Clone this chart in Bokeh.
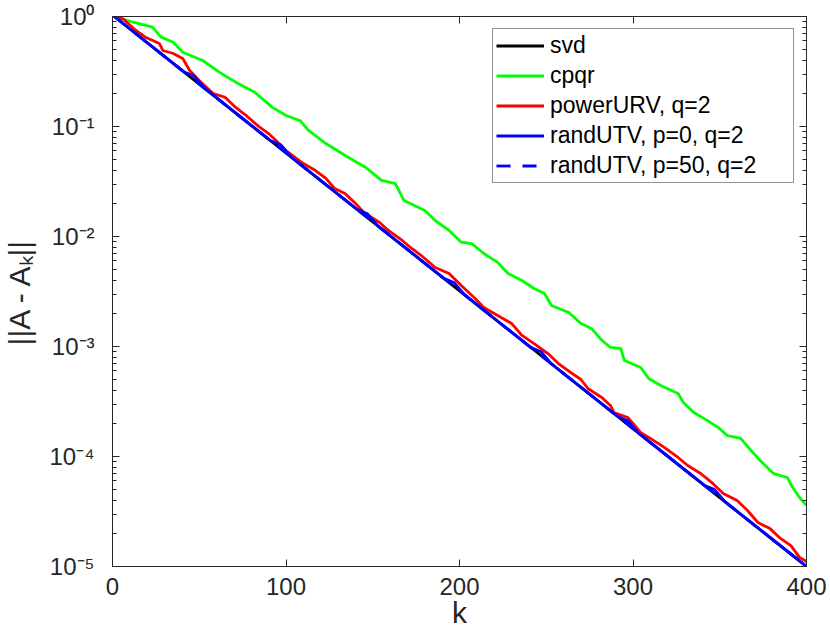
from bokeh.plotting import figure
from bokeh.models import (Range1d, FixedTicker, LinearAxis, LogAxis,
                          Legend, LegendItem, CustomJSTickFormatter)
from bokeh.embed import file_html
from bokeh.resources import INLINE

# ---------------- data ----------------
svd_k = [1, 50, 100, 150, 200, 250, 300, 350, 400]
svd_vals = [1.0, 0.243, 0.0574, 0.0136, 0.00321, 0.000758, 0.000179, 4.23e-5, 1.0e-5]

cpqr_k = [1, 12, 23, 28, 35, 40.5, 52, 61.5, 71, 82,
          92, 100, 108, 113, 123, 136, 146, 155, 163, 166,
          168, 180, 186, 194, 201, 207, 214, 222, 228, 236,
          243, 249, 253, 263, 270, 276, 282, 287, 293, 295,
          304.5, 309, 316, 326, 329, 335, 343, 349, 354.5, 362,
          368, 375, 381, 389, 392, 396, 400]
cpqr_vals = [1.0, 0.887, 0.800, 0.649, 0.583, 0.473, 0.398, 0.312, 0.253, 0.205,
             0.150, 0.126, 0.1135, 0.0920, 0.0700, 0.0522, 0.0424, 0.0324, 0.0303, 0.0246,
             0.0212, 0.0172, 0.01396, 0.01135, 0.00887, 0.00863, 0.00700, 0.00581, 0.00461, 0.00398,
             0.00337, 0.00303, 0.00236, 0.00204, 0.00162, 0.00146, 0.00114, 0.000980, 0.000959, 0.000746,
             0.000644, 0.000512, 0.000442, 0.000374, 0.000310, 0.000251, 0.000212, 0.000184, 0.000155, 0.000146,
             0.0001135, 8.63e-5, 7.00e-5, 6.44e-5, 5.22e-5, 4.24e-5, 3.59e-5]

purv_k = [1, 6, 13.5, 19, 27, 29, 35, 40.5, 44.5, 50,
          58, 65, 71, 77, 85, 90, 96, 100, 109, 117,
          123, 128, 134, 140, 145.5, 154, 159, 167, 172.5, 178,
          186, 194, 201, 209, 214, 222, 230, 236, 243, 251,
          257, 264, 270, 274, 282, 287, 289, 297, 300, 304.5,
          310, 318, 326, 331.5, 339, 346, 352, 360, 366, 372,
          379, 385, 391, 396, 400]
purv_vals = [1.0, 0.953, 0.746, 0.649, 0.569, 0.491, 0.461, 0.415, 0.323, 0.262,
             0.1995, 0.1837, 0.1489, 0.1259, 0.0980, 0.0863, 0.0700, 0.0605, 0.0471, 0.0398,
             0.0337, 0.0273, 0.0246, 0.0200, 0.0162, 0.0134, 0.01135, 0.00920, 0.00778, 0.00671,
             0.00522, 0.00461, 0.00359, 0.00273, 0.00226, 0.00191, 0.00162, 0.00126, 0.00106, 0.000863,
             0.000700, 0.000581, 0.000501, 0.000415, 0.000344, 0.000291, 0.000251, 0.000226, 0.000200, 0.000165,
             0.000146, 0.000121, 9.80e-5, 8.28e-5, 7.00e-5, 5.69e-5, 4.61e-5, 3.98e-5, 3.23e-5, 2.51e-5,
             2.21e-5, 1.80e-5, 1.55e-5, 1.21e-5, 1.11e-5]

rutv0_k = [1, 41, 47, 53, 91, 97, 103, 141, 147, 153, 191, 197, 203,
           241, 247, 253, 291, 297, 303, 341, 347, 353, 400]
rutv0_vals = [1.0, 0.3151, 0.2874, 0.2231, 0.07454, 0.06792, 0.05270,
              0.01760, 0.01605, 0.01245, 0.004159, 0.003792, 0.002942,
              0.0009829, 0.0008962, 0.0006953, 0.0002322, 0.0002117, 0.0001643,
              5.487e-5, 5.002e-5, 3.882e-5, 1.0e-5]

rutv50_k = [1, 50, 100, 150, 200, 250, 300, 350, 400]
rutv50_vals = [1.0, 0.243, 0.0574, 0.0136, 0.00321, 0.000758, 0.000179, 4.23e-5, 1.0e-5]

series_names = ["svd", "cpqr", "powerURV, q=2", "randUTV, p=0, q=2", "randUTV, p=50, q=2"]

xticks = [0, 100, 200, 300, 400]
ytick_vals = [1.0, 0.1, 0.01, 0.001, 0.0001, 1e-5]
ytick_labels = ["10\u2070", "10\u207b\u00b9", "10\u207b\u00b2", "10\u207b\u00b3",
                "10\u207b\u2074", "10\u207b\u2075"]
x_label = "k"
y_label = "||A - A\u2096||"

# ---------------- styling ----------------
FONT = "Liberation Sans"
AX = "#262626"

p = figure(width=830, height=636, y_axis_type="log",
           x_range=Range1d(0, 400), y_range=Range1d(1e-5, 1.0),
           output_backend="svg", toolbar_location=None,
           min_border_left=110, min_border_right=24,
           min_border_top=16, min_border_bottom=70)
p.xgrid.visible = False
p.ygrid.visible = False
p.outline_line_color = AX
p.outline_line_width = 1
p.background_fill_color = "white"
p.border_fill_color = "white"

xticker = FixedTicker(ticks=xticks)
yminor = [m * 10.0 ** e for e in range(-5, 0) for m in range(2, 10)]
yticker = FixedTicker(ticks=ytick_vals, minor_ticks=yminor)
empty = CustomJSTickFormatter(code="return ''")


def style_axis(ax):
    ax.axis_line_color = AX
    ax.axis_line_width = 1
    ax.major_tick_line_color = AX
    ax.minor_tick_line_color = AX
    ax.major_tick_in = 7
    ax.major_tick_out = 0
    ax.minor_tick_in = 4
    ax.minor_tick_out = 0


xa = p.xaxis[0]
xa.ticker = xticker
style_axis(xa)
xa.major_label_text_font = FONT
xa.major_label_text_font_size = "24px"
xa.major_label_text_color = AX
xa.major_label_standoff = 11
xa.axis_label = x_label
xa.axis_label_text_font = FONT
xa.axis_label_text_font_size = "30px"
xa.axis_label_text_font_style = "normal"
xa.axis_label_text_color = AX
xa.axis_label_standoff = -2

ya = p.yaxis[0]
ya.ticker = yticker
style_axis(ya)
ya.major_label_overrides = dict(zip(ytick_vals, ytick_labels))
ya.major_label_standoff = 18
ya.major_label_text_font = FONT
ya.major_label_text_font_size = "24px"
ya.major_label_text_color = AX
ya.axis_label = y_label
ya.axis_label_text_font = FONT
ya.axis_label_text_font_size = "30px"
ya.axis_label_text_font_style = "normal"
ya.axis_label_text_color = AX
ya.axis_label_standoff = 10

top = LinearAxis(ticker=xticker, formatter=empty)
style_axis(top)
top.major_label_text_font_size = "0px"
top.major_label_standoff = 0
p.add_layout(top, "above")

right = LogAxis(ticker=yticker, formatter=empty)
style_axis(right)
right.major_label_text_font_size = "0px"
right.major_label_standoff = 0
p.add_layout(right, "right")

# ---------------- lines ----------------
LW = 2.8
r_svd = p.line(svd_k, svd_vals, line_color="black", line_width=LW)
r_cpqr = p.line(cpqr_k, cpqr_vals, line_color="#00ff00", line_width=LW)
r_purv = p.line(purv_k, purv_vals, line_color="#ff0000", line_width=LW)
r_rutv0 = p.line(rutv0_k, rutv0_vals, line_color="#0000ff", line_width=LW)
r_rutv50 = p.line(rutv50_k, rutv50_vals, line_color="#0000ff", line_width=LW,
                  line_dash="14 12")

legend = Legend(items=[LegendItem(label=n, renderers=[r]) for n, r in
                       zip(series_names, [r_svd, r_cpqr, r_purv, r_rutv0, r_rutv50])],
                location="top_right", margin=12, padding=3, spacing=3,
                label_height=27, glyph_height=27, glyph_width=48,
                label_standoff=6, label_width=240,
                label_text_font=FONT, label_text_font_size="23px",
                label_text_color="black",
                border_line_color=AX, border_line_width=1,
                background_fill_color="white", background_fill_alpha=1.0)
p.add_layout(legend)

open("out.html", "w").write(file_html(p, INLINE))
